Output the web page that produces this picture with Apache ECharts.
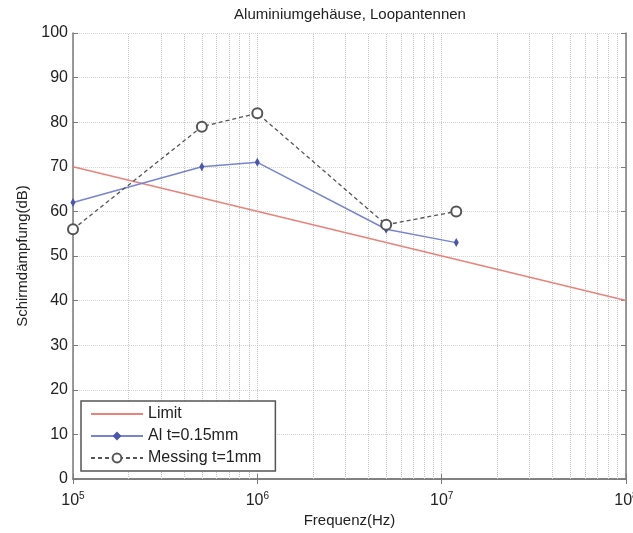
<!DOCTYPE html>
<html>
<head>
<meta charset="utf-8">
<script src="https://cdn.jsdelivr.net/npm/echarts@6/dist/echarts.min.js"></script>
<style>
  html, body { margin: 0; padding: 0; background: #fff; }
  #chart { width: 633px; height: 533px; }
</style>
</head>
<body>
<div id="chart"></div>
<script>
const limitFreq = [1e5, 1e8]
const limitValues = [70, 40]
const alFreq = [1e5, 5e5, 1e6, 5e6, 1.2e7]
const alValues = [62, 70, 71, 56, 53]
const messingFreq = [1e5, 5e5, 1e6, 5e6, 1.2e7]
const messingValues = [56, 79, 82, 57, 60]

// Nebengitterlinien der log-Achse (2..9 je Dekade)
const decades = [1e5, 1e6, 1e7]
const minorSteps = [2, 3, 4, 5, 6, 7, 8, 9]
const minorFreq = decades.flatMap(d => minorSteps.map(s => s * d))

const font = 'Liberation Sans, Arial, sans-serif'
const zip = (xs, ys) => xs.map((x, i) => [x, ys[i]])

const chart = echarts.init(document.getElementById('chart'))

const logAxisBase = {
  type: 'log',
  logBase: 10,
  min: 1e5,
  max: 1e8,
  axisLine: { show: true, lineStyle: { color: '#7a7a7a', width: 1.5 } },
  axisTick: { show: true, inside: true, length: 5, lineStyle: { color: '#7a7a7a' } }
}

chart.setOption({
  animation: false,
  backgroundColor: '#fff',
  title: {
    text: 'Aluminiumgehäuse, Loopantennen',
    left: 350,
    top: 7,
    textAlign: 'center',
    padding: 0,
    textStyle: { fontFamily: font, fontSize: 15, fontWeight: 'normal', color: '#222' }
  },
  grid: { left: 73, right: 7, top: 33, bottom: 54, containLabel: false, outerBoundsMode: 'none' },
  legend: {
    orient: 'vertical',
    left: 81,
    top: 401,
    padding: [5, 14, 5, 9],
    itemWidth: 52,
    itemHeight: 11,
    itemGap: 6,
    backgroundColor: '#fff',
    borderColor: '#555',
    borderWidth: 1.5,
    borderRadius: 0,
    textStyle: { fontFamily: font, fontSize: 16, color: '#222' },
    data: [
      { name: 'Limit', itemStyle: { opacity: 0 } },
      'Al t=0.15mm',
      'Messing t=1mm'
    ]
  },
  xAxis: [
    Object.assign({}, logAxisBase, {
      position: 'bottom',
      name: 'Frequenz(Hz)',
      nameLocation: 'middle',
      nameGap: 32,
      nameTextStyle: { fontFamily: font, fontSize: 15, color: '#222' },
      axisLabel: {
        margin: 12,
        formatter: v => '{b|10}{e|' + Math.round(Math.log10(v)) + '}',
        rich: {
          b: { fontFamily: font, fontSize: 16, color: '#222' },
          e: { fontFamily: font, fontSize: 10, color: '#222', padding: [0, 0, 9, 0] }
        }
      },
      splitLine: { show: true, lineStyle: { color: '#c4c4c4', type: 'dotted', width: 1 } }
    }),
    Object.assign({}, logAxisBase, {
      position: 'top',
      axisLabel: { show: false },
      splitLine: { show: false }
    })
  ],
  yAxis: [
    {
      type: 'value',
      min: 0,
      max: 100,
      interval: 10,
      position: 'left',
      name: 'Schirmdämpfung(dB)',
      nameLocation: 'middle',
      nameGap: 40,
      nameTextStyle: { fontFamily: font, fontSize: 15, color: '#222' },
      axisLine: { show: true, lineStyle: { color: '#7a7a7a', width: 1.5 } },
      axisTick: { show: true, inside: true, length: 5, lineStyle: { color: '#7a7a7a' } },
      axisLabel: { margin: 5, fontFamily: font, fontSize: 16, color: '#222' },
      splitLine: { show: true, lineStyle: { color: '#d4d4d4', type: 'dotted', width: 1 } }
    },
    {
      type: 'value',
      min: 0,
      max: 100,
      interval: 10,
      position: 'right',
      axisLine: { show: true, lineStyle: { color: '#7a7a7a', width: 1.5 } },
      axisTick: { show: true, inside: true, length: 5, lineStyle: { color: '#7a7a7a' } },
      axisLabel: { show: false },
      splitLine: { show: false }
    }
  ],
  series: [
    {
      name: 'Limit',
      type: 'line',
      xAxisIndex: 0,
      yAxisIndex: 0,
      data: zip(limitFreq, limitValues),
      showSymbol: false,
      symbol: 'circle',
      color: '#e8837b',
      lineStyle: { color: '#e8837b', width: 1.5 },
      z: 3,
      markLine: {
        silent: true,
        symbol: 'none',
        label: { show: false },
        lineStyle: { color: '#c4c4c4', type: 'dotted', width: 1 },
        data: minorFreq.map(f => ({ xAxis: f })),
        z: 1
      }
    },
    {
      name: 'Al t=0.15mm',
      type: 'line',
      xAxisIndex: 0,
      yAxisIndex: 0,
      data: zip(alFreq, alValues),
      symbol: 'diamond',
      symbolSize: [5, 9],
      color: '#4a55b0',
      itemStyle: { color: '#4a55b0' },
      lineStyle: { color: '#7884d2', width: 1.5 },
      z: 4
    },
    {
      name: 'Messing t=1mm',
      type: 'line',
      xAxisIndex: 0,
      yAxisIndex: 0,
      data: zip(messingFreq, messingValues),
      symbol: 'emptyCircle',
      symbolSize: 10,
      color: '#555',
      itemStyle: { color: '#555', borderWidth: 1.2 },
      lineStyle: { color: '#555', width: 1.3, type: [4, 3] },
      z: 5
    }
  ]
})

window.addEventListener('resize', () => chart.resize())
</script>
</body>
</html>
